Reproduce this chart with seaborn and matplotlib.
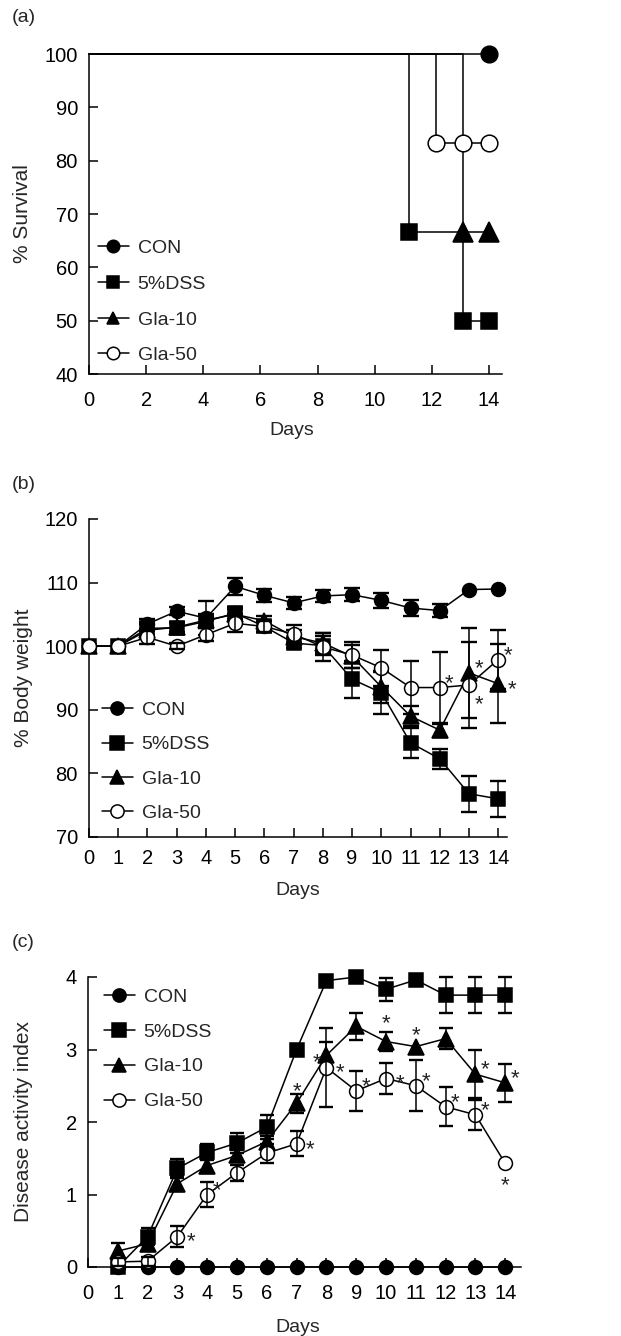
import numpy as np
import pandas as pd
import matplotlib
matplotlib.use('Agg')
import matplotlib.pyplot as plt
from matplotlib.lines import Line2D
import seaborn as sns

sns.set_style('ticks')
plt.rcParams['font.family'] = ['Liberation Sans', 'DejaVu Sans']
fs_tick = 14.5
fs_xlab = 14
fs_ylab = 15
fs_leg = 14

groups = ['CON', '5%DSS', 'Gla-10', 'Gla-50']
marks = {'CON': 'o', '5%DSS': 's', 'Gla-10': '^', 'Gla-50': 'o'}
faces = {'CON': 'k', '5%DSS': 'k', 'Gla-10': 'k', 'Gla-50': 'white'}

# (a) survival: step curves, markers only at the event points
surv_x = {'CON': [0, 14],
          '5%DSS': [0, 11.2, 13.1, 14],
          'Gla-10': [0, 13.1, 14],
          'Gla-50': [0, 12.15, 13.1, 14]}
surv_y = {'CON': [100, 100],
          '5%DSS': [100, 66.7, 50, 50],
          'Gla-10': [100, 66.7, 66.7],
          'Gla-50': [100, 83.3, 83.3, 83.3]}

# (b) body weight
bw_days = list(range(15))
bw = {'CON': [100, 100, 103.5, 105.5, 104.4, 109.4, 108.0, 106.8, 107.9, 108.1, 107.2, 106.0, 105.6, 108.9, 109.0],
      '5%DSS': [100, 100, 102.8, 102.9, 103.9, 105.2, 103.1, 100.5, 100.1, 94.8, 92.7, 84.8, 82.3, 76.8, 76.0],
      'Gla-10': [100, 100, 102.5, 103.0, 104.1, 105.0, 104.0, 101.5, 100.5, 98.4, 93.6, 89.0, 86.8, 95.8, 94.1],
      'Gla-50': [100, 100, 101.4, 100.0, 101.8, 103.6, 103.1, 101.9, 99.9, 98.6, 96.6, 93.5, 93.5, 93.9, 97.9]}
bw_err = {'CON': [0, 0, 0.8, 0.6, 2.7, 1.3, 1.0, 1.0, 1.0, 1.0, 1.2, 1.2, 1.0, 0, 0],
          '5%DSS': [0, 0, 1.0, 0.8, 1.0, 1.0, 0.8, 0.8, 1.5, 2.9, 3.3, 2.4, 1.6, 2.8, 2.8],
          'Gla-10': [0, 0, 1.0, 0.8, 1.0, 0.8, 0.8, 1.0, 1.5, 1.8, 2.5, 1.6, 1.0, 7.1, 6.2],
          'Gla-50': [0, 0, 1.0, 0.5, 1.0, 1.4, 0.8, 1.5, 2.2, 2.1, 2.8, 4.1, 5.6, 6.7, 4.7]}
bw_stars = [('Gla-50', 12, 'ur'), ('Gla-10', 13, 'ur'), ('Gla-50', 13, 'dr'),
            ('Gla-50', 14, 'ur'), ('Gla-10', 14, 'r')]

# (c) disease activity index
dai_days = list(range(1, 15))
dai = {'CON': [0] * 14,
       '5%DSS': [0, 0.42, 1.36, 1.58, 1.71, 1.93, 3.0, 3.95, 4.0, 3.83, 3.96, 3.75, 3.75, 3.75],
       'Gla-10': [0.22, 0.32, 1.15, 1.40, 1.54, 1.73, 2.26, 2.92, 3.32, 3.11, 3.04, 3.15, 2.66, 2.54],
       'Gla-50': [0.07, 0.08, 0.42, 1.0, 1.3, 1.57, 1.70, 2.75, 2.43, 2.60, 2.50, 2.21, 2.10, 1.43]}
dai_err = {'CON': [0] * 14,
           '5%DSS': [0, 0.12, 0.13, 0.11, 0.14, 0.17, 0, 0, 0, 0.16, 0, 0.25, 0.25, 0.25],
           'Gla-10': [0.11, 0.1, 0.1, 0.1, 0.08, 0.08, 0.13, 0.19, 0.19, 0.13, 0, 0.14, 0.33, 0.26],
           'Gla-50': [0.06, 0.06, 0.15, 0.17, 0.11, 0.13, 0.17, 0.54, 0.28, 0.21, 0.35, 0.27, 0.21, 0]}
dai_stars = [('Gla-50', 3, 'r'), ('Gla-50', 4, 'ur'), ('Gla-10', 7, 'u'), ('Gla-50', 7, 'r'),
             ('Gla-10', 8, 'l'), ('Gla-50', 8, 'r'), ('Gla-50', 9, 'ur'), ('Gla-10', 10, 'uu'),
             ('Gla-50', 10, 'r'), ('Gla-10', 11, 'u'), ('Gla-50', 11, 'ur'), ('Gla-50', 12, 'ur'),
             ('Gla-10', 13, 'ur'), ('Gla-50', 13, 'ur'), ('Gla-10', 14, 'ur'), ('Gla-50', 14, 'd')]

star_off = {'ur': (7, 8), 'r': (10, 1), 'u': (0, 13), 'uu': (0, 18), 'l': (-7, 0),
            'd': (0, -11), 'dr': (7, -9)}

fig = plt.figure(figsize=(6.21, 13.36), dpi=100)
ax_a = fig.add_axes([89 / 621, 1 - 374 / 1336, 413 / 621, 320 / 1336])
ax_b = fig.add_axes([89 / 621, 1 - 837 / 1336, 418 / 621, 318 / 1336])
ax_c = fig.add_axes([88 / 621, 1 - 1267 / 1336, 433 / 621, 290 / 1336])


def style_axes(ax, xpad):
    sns.despine(ax=ax)
    for s in ['left', 'bottom']:
        ax.spines[s].set_linewidth(1.1)
        ax.spines[s].set_color('k')
    ax.tick_params(axis='both', direction='in', length=6.5, width=1.1, color='k',
                   labelsize=fs_tick, labelcolor='k')
    ax.tick_params(axis='y', pad=8)
    ax.tick_params(axis='x', pad=xpad)


def add_legend(ax, ms, anchor, spacing):
    handles = [Line2D([], [], color='k', lw=1.1, marker=marks[g], ms=ms,
                      mfc=faces[g], mec='k', mew=1.1) for g in groups]
    ax.legend(handles, groups, loc='upper left', bbox_to_anchor=anchor, frameon=False,
              fontsize=fs_leg, handlelength=22 / fs_leg, handletextpad=6.5 / fs_leg,
              labelspacing=spacing, borderpad=0, borderaxespad=0)


def draw_series(ax, days, vals, errs, ms, capsize):
    for i, g in enumerate(groups):
        df = pd.DataFrame({'day': days, 'val': vals[g]})
        ms_g = ms + 1 if marks[g] == '^' else ms
        sns.lineplot(data=df, x='day', y='val', ax=ax, color='k', lw=1.1,
                     marker=marks[g], ms=ms_g, mfc=faces[g], mec='k', mew=1.1,
                     zorder=3 + i, clip_on=False, legend=False)
        e = np.array(errs[g])
        keep = e > 0
        if keep.any():
            ax.errorbar(np.array(days)[keep], np.array(vals[g])[keep], yerr=e[keep],
                        fmt='none', ecolor='k', elinewidth=1.1, capsize=capsize,
                        capthick=1.7, zorder=3.5 + i, clip_on=False)


def draw_stars(ax, days, vals, stars):
    for g, d, side in stars:
        dx, dy = star_off[side]
        y = vals[g][days.index(d)]
        ax.annotate('*', (d, y), xytext=(dx, dy - 5), textcoords='offset points',
                    ha='center', va='center', fontsize=16, color='#222222', zorder=10)


# ---- (a)
for i, g in enumerate(groups):
    x, y = surv_x[g], surv_y[g]
    ms_g = 14 if marks[g] == '^' else 12
    sns.lineplot(x=x, y=y, ax=ax_a, color='k', lw=1.1, drawstyle='steps-post',
                 marker=marks[g], markevery=list(range(1, len(x))), ms=ms_g,
                 mfc=faces[g], mec='k', mew=1.1, zorder=3 + i, clip_on=False,
                 legend=False, estimator=None)
ax_a.set_xlim(0, 14.45)
ax_a.set_ylim(40, 100)
ax_a.set_xticks(range(0, 15, 2))
ax_a.set_yticks(range(40, 101, 10))
style_axes(ax_a, 12)
ax_a.set_xlabel('Days', fontsize=fs_xlab)
ax_a.set_ylabel('% Survival', fontsize=fs_ylab)
ax_a.xaxis.set_label_coords(0.49, -0.150)
ax_a.yaxis.set_label_coords(-0.138, 0.5)
add_legend(ax_a, 9, (0.022, 0.42), 0.93)

# ---- (b)
draw_series(ax_b, bw_days, bw, bw_err, 10, 5.5)
draw_stars(ax_b, bw_days, bw, bw_stars)
ax_b.set_xlim(0, 14.3)
ax_b.set_ylim(70, 120)
ax_b.set_xticks(range(0, 15))
ax_b.set_yticks(range(70, 121, 10))
style_axes(ax_b, 9)
ax_b.set_xlabel('Days', fontsize=fs_xlab)
ax_b.set_ylabel('% Body weight', fontsize=fs_ylab)
ax_b.xaxis.set_label_coords(0.5, -0.142)
ax_b.yaxis.set_label_coords(-0.134, 0.5)
add_legend(ax_b, 9.5, (0.031, 0.426), 0.86)

# ---- (c)
draw_series(ax_c, dai_days, dai, dai_err, 10, 5.2)
draw_stars(ax_c, dai_days, dai, dai_stars)
ax_c.set_xlim(0, 14.53)
ax_c.set_ylim(0, 4)
ax_c.set_xticks(range(0, 15))
ax_c.set_yticks(range(0, 5))
style_axes(ax_c, 12)
ax_c.set_xlabel('Days', fontsize=fs_xlab)
ax_c.set_ylabel('Disease activity index', fontsize=fs_ylab)
ax_c.xaxis.set_label_coords(0.485, -0.180)
ax_c.yaxis.set_label_coords(-0.127, 0.5)
add_legend(ax_c, 9.5, (0.037, 0.962), 0.89)

for lab, ytop in [('(a)', 9), ('(b)', 476), ('(c)', 934)]:
    fig.text(12 / 621, 1 - ytop / 1336, lab, ha='left', va='top', fontsize=fs_xlab)

fig.savefig('out.png', dpi=100)
